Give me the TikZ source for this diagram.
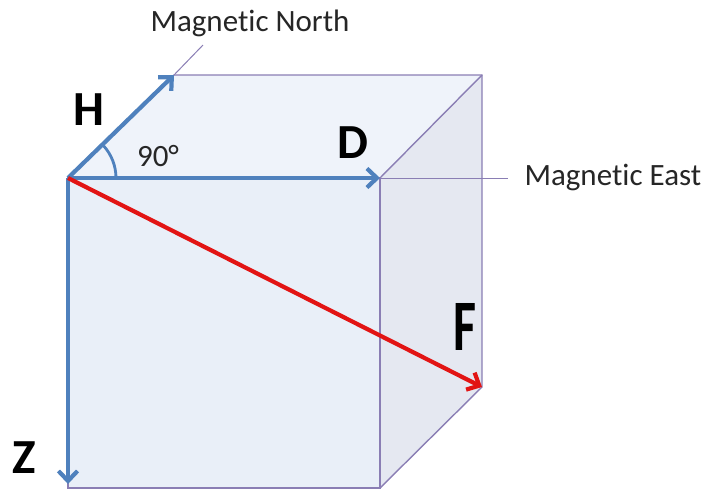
\documentclass[tikz,border=0pt]{standalone}
\usepackage{fontspec}
\setmainfont{Carlito}[Ligatures=NoCommon]
\usetikzlibrary{arrows.meta}

\definecolor{vecblue}{RGB}{79,129,189}
\definecolor{vecred}{RGB}{226,20,20}
\definecolor{edgepurple}{RGB}{138,126,180}
\definecolor{frontfill}{RGB}{233,239,248}
\definecolor{topfill}{RGB}{239,243,250}
\definecolor{sidefill}{RGB}{229,232,241}

\tikzset{
  vec/.style={line width=4.2pt,->},
  cubeedge/.style={draw=edgepurple,line width=1.4pt},
  letter/.style={font=\fontsize{49}{49}\selectfont\bfseries},
  note/.style={font=\fontsize{31}{31}\selectfont,text=black!85}
}

\begin{document}
\begin{tikzpicture}[x=1pt,y=-1pt,>={Straight Barb[length=10pt,width=19pt]}]

    \useasboundingbox (0,0) rectangle (710,491);

    % Corners of the cube
    \coordinate (O) at (68,178);   % front top left (origin)
    \coordinate (E) at (380,178);  % front top right
    \coordinate (G) at (380,488);  % front bottom right
    \coordinate (B) at (68,488);   % front bottom left
    \coordinate (N) at (174,75);   % back top left
    \coordinate (R) at (482,75);   % back top right
    \coordinate (S) at (482,387);  % back bottom right

    % Faces
    \fill[frontfill] (O) rectangle (G);
    \fill[topfill] (O) -- (N) -- (R) -- (E) -- cycle;
    \fill[sidefill] (E) -- (R) -- (S) -- (G) -- cycle;

    % Edges
    \draw[cubeedge] (O) -- (E) -- (G) -- (B) -- cycle;
    \draw[cubeedge] (O) -- (N) -- (R) -- (S) -- (G);
    \draw[cubeedge] (E) -- (R);

    % Leader lines with their labels
    \node[note,anchor=south] (north) at (250,40) {Magnetic North};
    \node[note,anchor=west] (east) at (521,177) {Magnetic East};
    \coordinate (Nend) at (203,45);
    \coordinate (Eend) at (508,178);
    \draw[cubeedge,line width=1pt] (N) -- (Nend);
    \draw[cubeedge,line width=1pt] (E) -- (Eend);

    % Right angle between H and D
    \draw[vecblue,line width=2.8pt] (116,178) arc[start angle=0,end angle=-42,radius=48];
    \node[note] (angle) at (158,156) {90°};

    % Field components
    \coordinate (Zend) at (68,484);
    \draw[vec,vecblue] (O) -- (N);
    \draw[vec,vecblue] (O) -- (E);
    \draw[vec,vecblue] (O) -- (Zend);
    \draw[vec,vecred] (O) -- (S);

    % Vector names
    \node[letter] (H) at (89,110) {H};
    \node[letter] (D) at (353,143) {D};
    \node[letter] (Z) at (24,458) {Z};
    \node[letter,font=\fontsize{50}{50}\selectfont\bfseries] (F) at (465,327) {\scalebox{1}[1.45]{F}};

\end{tikzpicture}
\end{document}
